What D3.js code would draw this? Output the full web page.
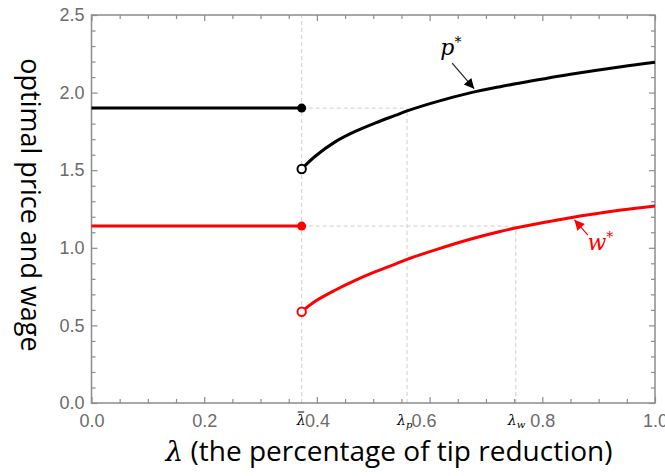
<!DOCTYPE html>
<html>
<head>
<meta charset="utf-8">
<script src="https://cdn.jsdelivr.net/npm/d3@7"></script>
<style>
  html, body { margin: 0; padding: 0; background: #fff; }
</style>
</head>
<body>
<div id="chart"></div>
<script>
const width = 665;
const height = 476;

// thresholds on the lambda axis
const lambdaBar = 0.373;
const lambdaP = 0.56;
const lambdaW = 0.753;

// flat parts (lambda <= lambdaBar)
const pFlat = 1.9;
const wFlat = 1.14;

// rising parts (lambda > lambdaBar)
const lambdaVals = [0.373, 0.397, 0.433, 0.468, 0.504, 0.539, 0.56, 0.613, 0.672, 0.725, 0.761, 0.85, 0.94, 1.0];
const pVals = [1.508, 1.59, 1.684, 1.75, 1.805, 1.853, 1.882, 1.942, 1.998, 2.038, 2.062, 2.118, 2.167, 2.195];
const wVals = [0.588, 0.655, 0.728, 0.79, 0.846, 0.895, 0.926, 0.99, 1.055, 1.105, 1.134, 1.194, 1.243, 1.27];

const xMajor = [0, 0.2, 0.4, 0.6, 0.8, 1.0];
const yMajor = [0, 0.5, 1.0, 1.5, 2.0, 2.5];

const x = d3.scaleLinear().domain([0, 1]).range([91.5, 655]);
const y = d3.scaleLinear().domain([0, 2.5]).range([403, 15]);

const svg = d3.select("#chart")
  .append("svg")
  .attr("width", width)
  .attr("height", height);

const defs = svg.append("defs");
[["arrowBlack", "#000"], ["arrowRed", "#ff0000"]].forEach(([id, c]) => {
  defs.append("marker")
    .attr("id", id)
    .attr("viewBox", "0 0 10 10")
    .attr("refX", 10)
    .attr("refY", 5)
    .attr("markerWidth", 13)
    .attr("markerHeight", 10)
    .attr("markerUnits", "userSpaceOnUse")
    .attr("orient", "auto")
    .append("path")
    .attr("d", "M0,0L10,5L0,10Z")
    .attr("fill", c);
});

// dashed guide lines
const guides = [
  [lambdaBar, 0, lambdaBar, 2.5],
  [lambdaP, 0, lambdaP, pFlat],
  [lambdaW, 0, lambdaW, wFlat],
  [lambdaBar, pFlat, lambdaP, pFlat],
  [lambdaBar, wFlat, lambdaW, wFlat]
];
svg.append("g")
  .selectAll("line")
  .data(guides)
  .enter()
  .append("line")
  .attr("x1", d => x(d[0]))
  .attr("y1", d => y(d[1]))
  .attr("x2", d => x(d[2]))
  .attr("y2", d => y(d[3]))
  .attr("stroke", "#cfcfcf")
  .attr("stroke-width", 1)
  .attr("stroke-dasharray", "4,3");

// frame + inward ticks
const minorX = d3.range(0, 1.0001, 0.05).filter(v => Math.abs(v * 5 - Math.round(v * 5)) > 1e-6);
const minorY = d3.range(0, 2.5001, 0.1).filter(v => Math.abs(v * 2 - Math.round(v * 2)) > 1e-6);
const frameColor = "#8c8c8c";
const labelColor = "#6b6b6b";

function styleAxis(g) {
  g.select(".domain").remove();
  g.selectAll(".tick line").attr("stroke", frameColor).attr("stroke-width", 1.2);
  g.selectAll(".tick text")
    .attr("fill", labelColor)
    .style("font-family", "'Liberation Sans', Arial, sans-serif")
    .style("font-size", "18px");
}

const fmt = d3.format(".1f");

svg.append("g").attr("transform", `translate(0,${y(0)})`)
  .call(d3.axisBottom(x).tickValues(xMajor).tickFormat(fmt).tickSize(-6).tickPadding(11))
  .call(styleAxis)
  .call(g => g.selectAll(".tick text").attr("dx", d => (Math.abs(d - 0.6) < 1e-6 ? -6 : 0)));
svg.append("g").attr("transform", `translate(0,${y(0)})`)
  .call(d3.axisBottom(x).tickValues(minorX).tickFormat("").tickSize(-4))
  .call(styleAxis);
svg.append("g").attr("transform", `translate(0,${y(2.5)})`)
  .call(d3.axisTop(x).tickValues(xMajor).tickFormat("").tickSize(-6))
  .call(styleAxis);
svg.append("g").attr("transform", `translate(0,${y(2.5)})`)
  .call(d3.axisTop(x).tickValues(minorX).tickFormat("").tickSize(-4))
  .call(styleAxis);

svg.append("g").attr("transform", `translate(${x(0)},0)`)
  .call(d3.axisLeft(y).tickValues(yMajor).tickFormat(fmt).tickSize(-6).tickPadding(7))
  .call(styleAxis);
svg.append("g").attr("transform", `translate(${x(0)},0)`)
  .call(d3.axisLeft(y).tickValues(minorY).tickFormat("").tickSize(-4))
  .call(styleAxis);
svg.append("g").attr("transform", `translate(${x(1)},0)`)
  .call(d3.axisRight(y).tickValues(yMajor).tickFormat("").tickSize(-6))
  .call(styleAxis);
svg.append("g").attr("transform", `translate(${x(1)},0)`)
  .call(d3.axisRight(y).tickValues(minorY).tickFormat("").tickSize(-4))
  .call(styleAxis);

svg.append("rect")
  .attr("x", x(0))
  .attr("y", y(2.5))
  .attr("width", x(1) - x(0))
  .attr("height", y(0) - y(2.5))
  .attr("fill", "none")
  .attr("stroke", frameColor)
  .attr("stroke-width", 1.5);

// special lambda tick labels
const lamLabels = [
  { v: lambdaBar, sub: "", bar: true, dx: -5 },
  { v: lambdaP, sub: "p", bar: false, dx: -10 },
  { v: lambdaW, sub: "w", bar: false, dx: -8 }
];
const lamG = svg.append("g")
  .style("font-family", "'DejaVu Serif', 'Liberation Serif', serif")
  .style("font-style", "italic")
  .attr("fill", "#000");
lamLabels.forEach(d => {
  const t = lamG.append("text")
    .attr("x", x(d.v) + d.dx)
    .attr("y", 425)
    .style("font-size", "14px");
  t.append("tspan").text("λ");
  if (d.sub) {
    t.append("tspan").attr("dy", 3).style("font-size", "10px").text(d.sub);
  }
  if (d.bar) {
    lamG.append("line")
      .attr("x1", x(d.v) - 4)
      .attr("x2", x(d.v) + 2.5)
      .attr("y1", 412)
      .attr("y2", 412)
      .attr("stroke", "#000")
      .attr("stroke-width", 1);
  }
});

// curves
const flatLambda = [0, lambdaBar];
const series = [
  { flat: pFlat, vals: pVals, color: "#000" },
  { flat: wFlat, vals: wVals, color: "#ff0000" }
];

const line = d3.line()
  .x(d => x(d[0]))
  .y(d => y(d[1]))
  .curve(d3.curveCatmullRom.alpha(0.5));

series.forEach(s => {
  svg.append("path")
    .attr("d", line(flatLambda.map(l => [l, s.flat])))
    .attr("fill", "none")
    .attr("stroke", s.color)
    .attr("stroke-width", 3);
  svg.append("path")
    .attr("d", line(lambdaVals.map((l, i) => [l, s.vals[i]])))
    .attr("fill", "none")
    .attr("stroke", s.color)
    .attr("stroke-width", 3);
  svg.append("circle")
    .attr("cx", x(lambdaBar))
    .attr("cy", y(s.flat))
    .attr("r", 4.5)
    .attr("fill", s.color);
  svg.append("circle")
    .attr("cx", x(lambdaVals[0]))
    .attr("cy", y(s.vals[0]))
    .attr("r", 4.2)
    .attr("fill", "#fff")
    .attr("stroke", s.color)
    .attr("stroke-width", 2);
});

// annotations
const notes = [
  { name: "p", color: "#000", lx: 0.619, ly: 2.245, from: [0.640, 2.19], to: [0.679, 2.025], marker: "arrowBlack", line: "#222" },
  { name: "w", color: "#ff0000", lx: 0.880, ly: 0.985, from: [0.881, 1.082], to: [0.857, 1.18], marker: "arrowRed", line: "#ff0000" }
];
notes.forEach(n => {
  svg.append("line")
    .attr("x1", x(n.from[0]))
    .attr("y1", y(n.from[1]))
    .attr("x2", x(n.to[0]))
    .attr("y2", y(n.to[1]))
    .attr("stroke", n.line)
    .attr("stroke-width", 1.2)
    .attr("marker-end", `url(#${n.marker})`);
  const t = svg.append("text")
    .attr("x", x(n.lx))
    .attr("y", y(n.ly))
    .attr("fill", n.color)
    .style("font-family", "'DejaVu Serif', 'Liberation Serif', serif")
    .style("font-style", "italic")
    .style("font-size", "22px");
  t.append("tspan").text(n.name);
  t.append("tspan").attr("dy", -8).style("font-size", "14px").text("*");
});

// axis titles
svg.append("text")
  .attr("x", 389)
  .attr("y", 461)
  .attr("text-anchor", "middle")
  .attr("fill", "#000")
  .style("font-family", "'Open Sans', Lato, sans-serif")
  .style("font-size", "28px")
  .call(t => {
    t.append("tspan")
      .style("font-family", "'DejaVu Serif', serif")
      .style("font-style", "italic")
      .text("λ");
    t.append("tspan").text(" (the percentage of tip reduction)");
  });

svg.append("text")
  .attr("transform", "translate(21,205) rotate(90)")
  .attr("text-anchor", "middle")
  .attr("fill", "#000")
  .style("font-family", "'Open Sans', Lato, sans-serif")
  .style("font-size", "27px")
  .text("optimal price and wage");
</script>
</body>
</html>
